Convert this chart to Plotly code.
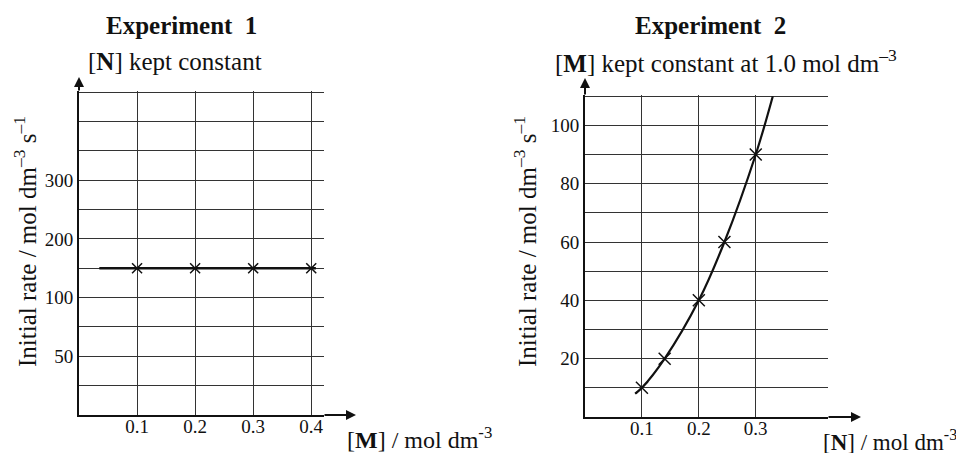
import plotly.graph_objects as go
from plotly.subplots import make_subplots

# Experiment 1: [N] constant, vary [M]
exp1_line_x = [0.035, 0.408]
exp1_line_y = [150, 150]
exp1_pts_x = [0.1, 0.2, 0.3, 0.4]
exp1_pts_y = [150, 150, 150, 150]
exp1_xticks = [0.1, 0.2, 0.3, 0.4]
exp1_xlabels = ["0.1", "0.2", "0.3", "0.4"]
# grid every 50; the printed labels sit on these lines (the "50" label is as printed)
exp1_yticks = [-50, 0, 50, 100, 150, 200, 250, 300, 350, 400, 450]
exp1_ylabels = ["", "50", "", "100", "", "200", "", "300", "", "", ""]

# Experiment 2: [M] constant at 1.0, vary [N]
exp2_curve_x = [0.088, 0.1, 0.14, 0.2, 0.245, 0.3, 0.33]
exp2_curve_y = [8, 10, 20, 40, 60, 90, 110]
exp2_pts_x = [0.1, 0.14, 0.2, 0.245, 0.3]
exp2_pts_y = [10, 20, 40, 60, 90]
exp2_xticks = [0.1, 0.2, 0.3]
exp2_xlabels = ["0.1", "0.2", "0.3"]
exp2_yticks = [10, 20, 30, 40, 50, 60, 70, 80, 90, 100, 110]
exp2_ylabels = ["", "20", "", "40", "", "60", "", "80", "", "100", ""]

W, H = 956, 453
FONT = "Liberation Serif"
INK = "#111"

fig = make_subplots(rows=1, cols=2)

fig.add_trace(go.Scatter(x=exp1_line_x, y=exp1_line_y, mode="lines",
                         line=dict(color=INK, width=2.5), showlegend=False), 1, 1)
fig.add_trace(go.Scatter(x=exp1_pts_x, y=exp1_pts_y, mode="markers",
                         marker=dict(symbol="x-thin", size=10, line=dict(color=INK, width=1.5)),
                         showlegend=False), 1, 1)
fig.add_trace(go.Scatter(x=exp2_curve_x, y=exp2_curve_y, mode="lines",
                         line=dict(color=INK, width=2.2, shape="spline", smoothing=1.0),
                         showlegend=False), 1, 2)
fig.add_trace(go.Scatter(x=exp2_pts_x, y=exp2_pts_y, mode="markers",
                         marker=dict(symbol="x-thin", size=12, line=dict(color=INK, width=1.5)),
                         showlegend=False), 1, 2)

axis_common = dict(showline=True, linecolor=INK, linewidth=2, showgrid=True,
                   gridcolor="#333", gridwidth=1, zeroline=False, ticks="",
                   tickfont=dict(family=FONT, size=19, color=INK), tickmode="array")

# ranges padded a hair past the last grid line so Plotly still draws it
fig.update_xaxes(domain=[79 / W, 324 / W], range=[0, 0.422], tickvals=exp1_xticks,
                 ticktext=exp1_xlabels, ticklabelstandoff=-7, **axis_common, row=1, col=1)
fig.update_yaxes(domain=[1 - 415 / H, 1 - 91 / H], range=[-100, 452], tickvals=exp1_yticks,
                 ticktext=exp1_ylabels, **axis_common, row=1, col=1)
fig.update_xaxes(domain=[585 / W, 828 / W], range=[0, 0.427], tickvals=exp2_xticks,
                 ticktext=exp2_xlabels, ticklabelstandoff=-7, **axis_common, row=1, col=2)
fig.update_yaxes(domain=[1 - 417 / H, 1 - 95 / H], range=[0, 110.4], tickvals=exp2_yticks,
                 ticktext=exp2_ylabels, **axis_common, row=1, col=2)


def txt(x, y, text, size=25, angle=0, xanchor="center"):
    return dict(x=x / W, y=1 - y / H, xref="paper", yref="paper", text=text,
                showarrow=False, textangle=angle, xanchor=xanchor, yanchor="middle",
                font=dict(family=FONT, size=size, color=INK))


def arrow(xref, yref, x, y, ax, ay):
    return dict(x=x, y=y, xref=xref, yref=yref, ax=ax, ay=ay, text="",
                showarrow=True, arrowhead=2, arrowsize=1, arrowwidth=2, arrowcolor=INK)


ytitle = "Initial rate / mol dm<sup>–3</sup> s<sup>–1</sup>"
annotations = [
    txt(181, 26, "<b>Experiment  1</b>"),
    txt(175, 61, "[<b>N</b>] kept constant"),
    txt(710, 26, "<b>Experiment  2</b>"),
    txt(726, 61, "[<b>M</b>] kept constant at 1.0 mol dm<sup>–3</sup>"),
    txt(25, 242, ytitle, angle=-90),
    txt(525, 242, ytitle, angle=-90),
    txt(345, 438, "[<b>M</b>] / mol dm<sup>-3</sup>", size=24, xanchor="left"),
    txt(821, 440, "[<b>N</b>] / mol dm<sup>-3</sup>", size=23, xanchor="left"),
    # axis arrow extensions
    arrow("x domain", "y domain", 1 + 32 / 245, 0, -33, 0),
    arrow("x domain", "y domain", 0, 1 + 14 / 324, 0, 15),
    arrow("x2 domain", "y2 domain", 1 + 33 / 243, 0, -34, 0),
    arrow("x2 domain", "y2 domain", 0, 1 + 17 / 322, 0, 18),
]

fig.update_layout(width=W, height=H, margin=dict(l=0, r=0, t=0, b=0),
                  paper_bgcolor="white", plot_bgcolor="white",
                  annotations=annotations, showlegend=False)

# drop the browser's default 8px body margin so the figure sits at the window corner
fig.write_html("out.html", config={"displayModeBar": False},
               post_script="document.body.style.margin='0';")
